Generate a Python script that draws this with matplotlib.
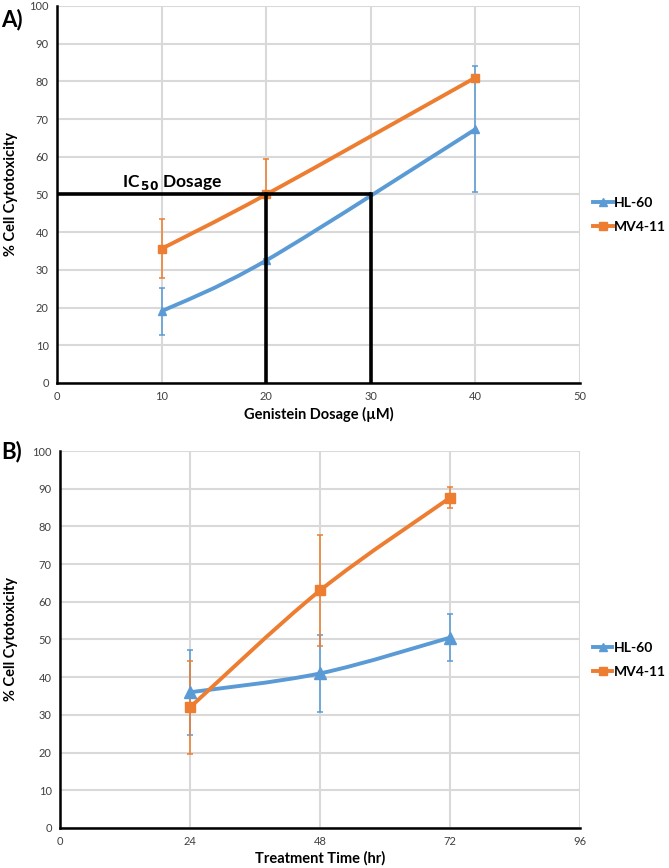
import numpy as np
import matplotlib.pyplot as plt
from matplotlib.path import Path
from matplotlib.patches import PathPatch
from matplotlib.lines import Line2D

plt.rcParams['font.family'] = ['Lato', 'DejaVu Sans']

# Panel A : dose
dose = [10, 20, 40]
hl60_dose = [19.0, 32.5, 67.3]
hl60_dose_err = [6.3, 0.4, 16.7]
mv411_dose = [35.6, 50.0, 81.0]
mv411_dose_err_bas = [7.8, 0.0, 0.8]
mv411_dose_err_haut = [7.8, 9.3, 0.8]

# Panel B : temps
temps = [24, 48, 72]
hl60_temps = [36.0, 41.0, 50.5]
hl60_temps_err = [11.3, 10.1, 6.3]
mv411_temps = [32.0, 63.0, 87.6]
mv411_temps_err = [12.4, 14.6, 2.8]

# IC50
ic50_y = 50
ic50_x = [20, 30]

BLEU = '#5B9BD5'
ORANGE = '#ED7D31'
GRILLE = '#D9D9D9'


def courbe_lissee(ax, x, y, couleur, lw):
    # lissage type Excel (Bezier Catmull-Rom)
    pts = np.column_stack([x, y]).astype(float)
    n = len(pts)
    verts = [pts[0]]
    codes = [Path.MOVETO]
    for i in range(n - 1):
        p0 = pts[i - 1] if i > 0 else pts[i]
        p1 = pts[i]
        p2 = pts[i + 1]
        p3 = pts[i + 2] if i + 2 < n else pts[i + 1]
        c1 = p1 + (p2 - p0) / 6
        c2 = p2 - (p3 - p1) / 6
        verts += [c1, c2, p2]
        codes += [Path.CURVE4] * 3
    patch = PathPatch(Path(verts, codes), facecolor='none', edgecolor=couleur,
                      lw=lw, transform=ax.transData, zorder=4, capstyle='round')
    ax.add_patch(patch)


def serie(ax, x, y, err, couleur, marqueur, ms):
    ax.errorbar(x, y, yerr=err, fmt='none', ecolor=couleur, elinewidth=1.1,
                capsize=2, capthick=1.1, zorder=3)
    courbe_lissee(ax, x, y, couleur, 2.8)
    ax.plot(x, y, linestyle='none', marker=marqueur, color=couleur, ms=ms, zorder=5)


def habillage(ax, xticks, xlabel):
    ax.set_ylim(0, 100)
    ax.set_yticks(range(0, 101, 10))
    ax.set_xlim(xticks[0], xticks[-1])
    ax.set_xticks(xticks)
    ax.grid(True, color=GRILLE, lw=1.5)
    ax.set_axisbelow(True)
    for s in ['top', 'right']:
        ax.spines[s].set_visible(False)
    for s in ['left', 'bottom']:
        ax.spines[s].set_linewidth(1.8)
        ax.spines[s].set_color('black')
        ax.spines[s].set_zorder(6)
    ax.tick_params(length=0, labelsize=8, labelcolor='#404040', pad=6)
    ax.set_xlabel(xlabel, fontsize=10.5, fontweight='bold', labelpad=3)
    ax.set_ylabel('% Cell Cytotoxicity', fontsize=10.5, fontweight='bold')
    handles = [Line2D([], [], color=BLEU, lw=2.8, marker='^', ms=6),
               Line2D([], [], color=ORANGE, lw=2.8, marker='s', ms=5.5)]
    ax.legend(handles, ['HL-60', 'MV4-11'], loc='center left',
              bbox_to_anchor=(1.025, 0.445), frameon=False, handlelength=1.4,
              handletextpad=0.1, labelspacing=0.85, borderaxespad=0, borderpad=0,
              prop={'weight': 'bold', 'size': 10})


fig = plt.figure(figsize=(6.69, 8.68), dpi=100)
axA = fig.add_axes([0.0852, 0.5588, 0.7818, 0.4343])
axB = fig.add_axes([0.0897, 0.0461, 0.7773, 0.4343])

# A
serie(axA, dose, hl60_dose, hl60_dose_err, BLEU, '^', 6)
serie(axA, dose, mv411_dose, [mv411_dose_err_bas, mv411_dose_err_haut], ORANGE, 's', 5.5)
axA.plot([0, ic50_x[1]], [ic50_y, ic50_y], color='black', lw=2.6, zorder=6, solid_capstyle='butt')
for xv in ic50_x:
    axA.plot([xv, xv], [0, ic50_y], color='black', lw=2.6, zorder=6, solid_capstyle='projecting')
axA.text(6.2, 52.0, r'IC$_{\,\mathbf{50}}$ Dosage', fontsize=12.5, fontweight='bold', zorder=7)
habillage(axA, [0, 10, 20, 30, 40, 50], 'Genistein Dosage (µM)')
axA.yaxis.set_label_coords(-0.075, 0.5)

# B
serie(axB, temps, hl60_temps, hl60_temps_err, BLEU, '^', 8)
serie(axB, temps, mv411_temps, mv411_temps_err, ORANGE, 's', 7.5)
habillage(axB, [0, 24, 48, 72, 96], 'Treatment Time (hr)')
axB.yaxis.set_label_coords(-0.08, 0.5)

fig.text(0.002, 0.99, 'A)', fontsize=16, fontweight='bold', ha='left', va='top')
fig.text(0.002, 0.492, 'B)', fontsize=16, fontweight='bold', ha='left', va='top')

fig.savefig('out.png', dpi=100)
